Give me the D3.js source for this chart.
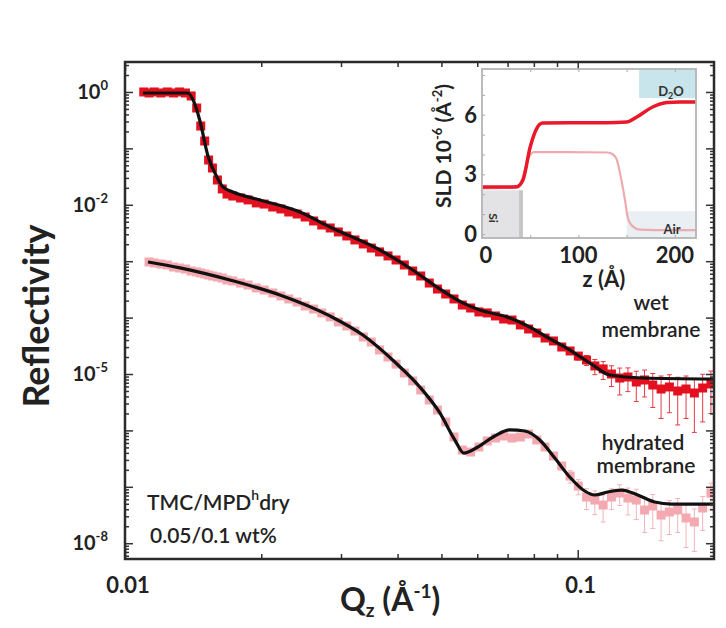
<!DOCTYPE html>
<html>
<head>
<meta charset="utf-8">
<script src="https://cdn.jsdelivr.net/npm/d3@7"></script>
<style>
  body { margin: 0; background: #fff; }
  svg { display: block; font-family: Lato, 'Open Sans', sans-serif; }
</style>
</head>
<body>
<svg id="chart" width="726" height="628"></svg>
<script>
// wet membrane data (Q in 1/A, reflectivity, relative error)
const wetQ = [0.0110, 0.0113, 0.0116, 0.0120, 0.0124, 0.0128, 0.0132, 0.0136, 0.0140,
  0.0144, 0.0147, 0.0150, 0.0153, 0.0156, 0.0160, 0.0164, 0.0168, 0.0173,
  0.0180, 0.0187, 0.0195, 0.0203, 0.0212, 0.0221, 0.0230, 0.0240, 0.0250, 0.0261,
  0.0272, 0.0284, 0.0296, 0.0309, 0.0322, 0.0336, 0.0350, 0.0365, 0.0381, 0.0397,
  0.0414, 0.0432, 0.0450, 0.0470, 0.0490, 0.0511, 0.0533, 0.0556, 0.0580, 0.0605,
  0.0631, 0.0658, 0.0686, 0.0716, 0.0747, 0.0779, 0.0812, 0.0847, 0.0884, 0.0922,
  0.0962, 0.1003, 0.1046, 0.1091, 0.1138, 0.1187, 0.1238, 0.1291, 0.1347, 0.1405,
  0.1465, 0.1528, 0.1594, 0.1663, 0.1735, 0.1810, 0.1888, 0.1969];
const wetR = [1.00, 0.96, 1.00, 0.96, 1.00, 0.96, 1.00, 0.96, 0.85,
  0.52, 0.249, 0.135, 0.0622, 0.0449, 0.0275, 0.0191, 0.0155, 0.0143,
  0.0132, 0.0122, 0.0108, 0.0103, 9.14e-3, 8.43e-3, 7.45e-3, 6.87e-3, 6.08e-3, 5.16e-3,
  4.38e-3, 3.88e-3, 3.30e-3, 2.80e-3, 2.38e-3, 2.02e-3, 1.71e-3, 1.46e-3, 1.24e-3, 1.05e-3,
  8.57e-4, 6.70e-4, 5.47e-4, 4.10e-4, 3.21e-4, 2.62e-4, 2.14e-4, 1.67e-4, 1.48e-4, 1.26e-4,
  1.21e-4, 1.07e-4, 9.44e-5, 9.06e-5, 7.40e-5, 6.28e-5, 5.33e-5, 4.35e-5, 3.85e-5, 3.01e-5,
  2.56e-5, 2.08e-5, 1.77e-5, 1.39e-5, 1.23e-5, 1.00e-5, 8.49e-6, 8.85e-6, 7.21e-6, 7.83e-6,
  6.38e-6, 5.42e-6, 5.88e-6, 5.00e-6, 5.42e-6, 4.61e-6, 5.65e-6, 6.65e-6];
const wetErr = [0.03, 0.03, 0.03, 0.03, 0.03, 0.03, 0.03, 0.03, 0.03,
  0.03, 0.03, 0.03, 0.03, 0.03, 0.03, 0.03, 0.03, 0.03,
  0.03, 0.03, 0.03, 0.03, 0.03, 0.03, 0.03, 0.03, 0.03, 0.03,
  0.03, 0.03, 0.03, 0.03, 0.03, 0.03, 0.03, 0.03, 0.03, 0.03,
  0.04, 0.04, 0.04, 0.04, 0.04, 0.04, 0.04, 0.04, 0.04, 0.04,
  0.05, 0.05, 0.05, 0.06, 0.06, 0.07, 0.07, 0.08, 0.08, 0.10,
  0.12, 0.15, 0.20, 0.30, 0.35, 0.40, 0.50, 0.45, 0.55, 0.50,
  0.60, 0.70, 0.65, 0.75, 0.70, 0.80, 0.75, 0.70];

// hydrated membrane data (same Q grid without the first point)
const hydQ = wetQ.slice(1);
const hydR = [9.68e-4, 9.29e-4, 8.92e-4, 8.57e-4, 7.89e-4, 7.57e-4, 7.27e-4, 6.70e-4,
  6.44e-4, 6.18e-4, 5.93e-4, 5.69e-4, 5.47e-4, 5.25e-4, 5.04e-4, 4.64e-4, 4.46e-4,
  4.10e-4, 3.78e-4, 3.35e-4, 3.08e-4, 2.73e-4, 2.42e-4, 2.14e-4, 1.89e-4, 1.61e-4, 1.42e-4,
  1.21e-4, 1.03e-4, 8.36e-5, 7.10e-5, 5.78e-5, 4.53e-5, 3.69e-5, 2.67e-5, 2.00e-5, 1.50e-5,
  1.04e-5, 7.52e-6, 5.20e-6, 3.46e-6, 2.30e-6, 1.41e-6, 7.64e-7, 4.49e-7, 4.14e-7, 5.08e-7,
  6.49e-7, 7.33e-7, 7.96e-7, 7.33e-7, 7.64e-7, 8.63e-7, 6.76e-7, 5.08e-7, 3.52e-7, 2.34e-7,
  1.55e-7, 1.03e-7, 6.59e-8, 5.83e-8, 4.75e-8, 6.59e-8, 7.76e-8, 6.33e-8, 5.83e-8, 3.88e-8,
  4.57e-8, 3.16e-8, 3.57e-8, 3.88e-8, 2.80e-8, 2.38e-8, 4.21e-8, 7.76e-8];
const hydErr = [0.03, 0.03, 0.03, 0.03, 0.03, 0.03, 0.03, 0.03,
  0.03, 0.03, 0.03, 0.03, 0.03, 0.03, 0.03, 0.03, 0.03,
  0.03, 0.03, 0.03, 0.03, 0.03, 0.03, 0.03, 0.03, 0.03, 0.03,
  0.03, 0.03, 0.03, 0.03, 0.03, 0.03, 0.03, 0.03, 0.03, 0.03,
  0.03, 0.03, 0.03, 0.04, 0.04, 0.05, 0.05, 0.06, 0.06, 0.06,
  0.06, 0.06, 0.06, 0.06, 0.07, 0.07, 0.08, 0.10, 0.12, 0.15,
  0.25, 0.30, 0.40, 0.45, 0.50, 0.40, 0.40, 0.50, 0.55, 0.60,
  0.60, 0.65, 0.60, 0.60, 0.70, 0.70, 0.60, 0.50];

// model fits
const wetFitQ = [0.01096, 0.01377, 0.01420, 0.01464, 0.01525, 0.01596, 0.01646, 0.01731,
  0.01986, 0.02433, 0.02835, 0.03656, 0.04322, 0.04884, 0.05574, 0.06076, 0.06970,
  0.07834, 0.08543, 0.09456, 0.1079, 0.1177, 0.1392, 0.1996];
const wetFitR = [0.96, 0.96, 0.665, 0.306, 0.0733, 0.0311, 0.0207, 0.01687,
  0.01216, 7.45e-3, 4.04e-3, 1.58e-3, 6.98e-4, 3.49e-4, 1.82e-4, 1.36e-4, 1.03e-4,
  6.81e-5, 4.53e-5, 2.89e-5, 1.45e-5, 9.6e-6, 8.5e-6, 8.15e-6];
const hydFitQ = [0.01124, 0.01323, 0.01705, 0.02199, 0.02835, 0.03353, 0.03945, 0.04479,
  0.04960, 0.05351, 0.05602, 0.06017, 0.06557, 0.07077, 0.07638, 0.08245, 0.08898,
  0.09601, 0.1036, 0.1090, 0.1165, 0.1251, 0.1357, 0.1479, 0.1613, 0.1996];
const hydFitR = [9.7e-4, 7.6e-4, 4.64e-4, 2.52e-4, 1.07e-4, 4.9e-5, 1.63e-5, 5.9e-6,
  2.04e-6, 6.8e-7, 3.97e-7, 5.08e-7, 7.96e-7, 1.02e-6, 9.75e-7, 6.76e-7, 3.24e-7,
  1.49e-7, 8.43e-8, 7.16e-8, 8.09e-8, 8.77e-8, 7.16e-8, 5.37e-8, 4.95e-8, 4.95e-8];

// SLD profiles for the inset
const wetZ = [0, 20, 36, 42.5, 50, 57, 63, 90, 130, 150, 160.6, 177, 192, 205, 222];
const wetSLD = [2.36, 2.36, 2.38, 2.72, 4.38, 5.33, 5.58, 5.6, 5.6, 5.63, 5.89, 6.39, 6.62, 6.64, 6.64];
const dryZ = [0, 36, 42, 48, 54, 90, 130, 136, 140, 143, 146, 149, 151, 156, 164, 180, 222];
const drySLD = [2.3, 2.32, 2.8, 3.8, 4.12, 4.12, 4.1, 4.0, 3.72, 3.1, 2.36, 1.5, 0.86, 0.4, 0.22, 0.2, 0.2];

// ticks
const xMajor = [0.01, 0.1];
const xMinor = [0.02, 0.03, 0.04, 0.05, 0.06, 0.07, 0.08, 0.09];
const xLabels = ['0.01', '0.1'];
const yDecades = [0, -1, -2, -3, -4, -5, -6, -7, -8];
const yLabelled = [0, -2, -5, -8];
const insetXTicks = [0, 50, 100, 150, 200];
const insetXLabels = [0, 100, 200];
const insetYTicks = [0, 1, 2, 3, 4, 5, 6, 7, 8];
const insetYLabels = [0, 3, 6];

const svg = d3.select('#chart');
const plot = { left: 125, right: 714, top: 62, bottom: 559 };

const x = d3.scaleLog().domain([0.01, 0.2]).range([plot.left, plot.right]);
const y = d3.scaleLog().domain([5.25e-9, 3.4]).range([plot.bottom, plot.top]);

svg.append('defs').append('clipPath').attr('id', 'clip')
  .append('rect')
  .attr('x', plot.left).attr('y', plot.top)
  .attr('width', plot.right - plot.left).attr('height', plot.bottom - plot.top);

function drawPoints(qs, rs, errs, fill, barColor) {
  const data = qs.map((q, i) => ({ q, r: rs[i], e: errs[i] }));
  const g = svg.append('g').attr('clip-path', 'url(#clip)');
  const bars = g.append('g').attr('stroke', barColor).attr('stroke-width', 1);
  bars.selectAll('line.v').data(data).enter().append('line')
    .attr('x1', d => x(d.q)).attr('x2', d => x(d.q))
    .attr('y1', d => y(d.r * (1 + d.e))).attr('y2', d => y(d.r * (1 - d.e)));
  bars.selectAll('line.lo').data(data).enter().append('line')
    .attr('x1', d => x(d.q) - 2.5).attr('x2', d => x(d.q) + 2.5)
    .attr('y1', d => y(d.r * (1 - d.e))).attr('y2', d => y(d.r * (1 - d.e)));
  bars.selectAll('line.hi').data(data).enter().append('line')
    .attr('x1', d => x(d.q) - 2.5).attr('x2', d => x(d.q) + 2.5)
    .attr('y1', d => y(d.r * (1 + d.e))).attr('y2', d => y(d.r * (1 + d.e)));
  g.selectAll('rect').data(data).enter().append('rect')
    .attr('x', d => x(d.q) - 4.5).attr('y', d => y(d.r) - 4.5)
    .attr('width', 9).attr('height', 9)
    .attr('fill', fill);
}

drawPoints(hydQ, hydR, hydErr, '#f4a9b0', '#f3b4ba');
drawPoints(wetQ, wetR, wetErr, '#e3101f', '#e33a46');

const fitLine = d3.line().x(d => x(d[0])).y(d => y(d[1])).curve(d3.curveMonotoneX);
const fits = svg.append('g').attr('clip-path', 'url(#clip)')
  .attr('fill', 'none').attr('stroke', '#111').attr('stroke-width', 3.2);
fits.append('path').attr('d', fitLine(d3.zip(wetFitQ, wetFitR)));
fits.append('path').attr('d', fitLine(d3.zip(hydFitQ, hydFitR)));

// axes
const yMinor = [];
for (let e = -9; e <= 0; e++) {
  for (let m = 2; m <= 9; m++) {
    const v = m * Math.pow(10, e);
    if (v > y.domain()[0] && v < y.domain()[1]) yMinor.push(v);
  }
}
const yMajorVals = yDecades.map(e => Math.pow(10, e));

function tickAxis(axis, pos, vals, size) {
  svg.append('g')
    .attr('transform', pos)
    .call(axis.tickValues(vals).tickSizeInner(-size).tickSizeOuter(0).tickFormat(''))
    .call(g => g.select('.domain').remove())
    .call(g => g.selectAll('line').attr('stroke', '#333').attr('stroke-width', 1.5));
}
tickAxis(d3.axisBottom(x), `translate(0,${plot.bottom})`, xMajor, 9);
tickAxis(d3.axisBottom(x), `translate(0,${plot.bottom})`, xMinor, 5);
tickAxis(d3.axisTop(x), `translate(0,${plot.top})`, xMajor, 9);
tickAxis(d3.axisTop(x), `translate(0,${plot.top})`, xMinor, 5);
tickAxis(d3.axisLeft(y), `translate(${plot.left},0)`, yMajorVals, 8);
tickAxis(d3.axisLeft(y), `translate(${plot.left},0)`, yMinor, 4);
tickAxis(d3.axisRight(y), `translate(${plot.right},0)`, yMajorVals, 8);
tickAxis(d3.axisRight(y), `translate(${plot.right},0)`, yMinor, 4);

svg.append('rect')
  .attr('x', plot.left).attr('y', plot.top)
  .attr('width', plot.right - plot.left).attr('height', plot.bottom - plot.top)
  .attr('fill', 'none').attr('stroke', '#2b2b2b').attr('stroke-width', 2.5);

// tick labels
svg.append('g').selectAll('text').data(xMajor).enter().append('text')
  .attr('x', d => x(d) + 3).attr('y', 593)
  .attr('text-anchor', 'middle')
  .attr('font-size', 22).attr('font-weight', 700).attr('fill', '#222')
  .text((d, i) => xLabels[i]);

const yl = svg.append('g').selectAll('text').data(yLabelled).enter().append('text')
  .attr('x', 108).attr('y', d => y(Math.pow(10, d)) + 7)
  .attr('text-anchor', 'end')
  .attr('font-size', 20).attr('font-weight', 700).attr('fill', '#222');
yl.append('tspan').text('10');
yl.append('tspan').attr('dy', -9).attr('font-size', 13).text(d => d === 0 ? '0' : '-' + Math.abs(d));

// axis titles
svg.append('text')
  .attr('transform', 'translate(49,316) rotate(-90)')
  .attr('text-anchor', 'middle')
  .attr('font-size', 36).attr('font-weight', 700).attr('fill', '#222')
  .text('Reflectivity');

const xt = svg.append('text')
  .attr('x', 340).attr('y', 611)
  .attr('font-size', 32).attr('font-weight', 700).attr('fill', '#222');
xt.append('tspan').text('Q');
xt.append('tspan').attr('font-size', 19).attr('dy', 6).text('z');
xt.append('tspan').attr('dy', -6).text(' (Å');
xt.append('tspan').attr('font-size', 19).attr('dy', -13).text('-1');
xt.append('tspan').attr('dy', 13).text(')');

// annotations
const note = svg.append('g').attr('font-size', 21).attr('font-weight', 600).attr('fill', '#222');
const n1 = note.append('text').attr('x', 147).attr('y', 510);
n1.append('tspan').text('TMC/MPD');
n1.append('tspan').attr('font-size', 14).attr('dy', -10).text('h');
n1.append('tspan').attr('dy', 10).text('dry');
note.append('text').attr('x', 150).attr('y', 543).text('0.05/0.1 wt%');

const lab = svg.append('g').attr('font-size', 21).attr('font-weight', 600).attr('fill', '#222')
  .attr('text-anchor', 'middle');
lab.append('text').attr('x', 651).attr('y', 310).text('wet');
lab.append('text').attr('x', 651).attr('y', 337).text('membrane');
lab.append('text').attr('x', 643).attr('y', 450).text('hydrated');
lab.append('text').attr('x', 646).attr('y', 473).text('membrane');

// inset SLD profile
const inset = { left: 482, right: 696, top: 69, bottom: 238 };
const xs = d3.scaleLinear().domain([0, 222]).range([inset.left, inset.right]);
const ys = d3.scaleLinear().domain([-0.2, 8.3]).range([inset.bottom, inset.top]);

svg.append('rect')
  .attr('x', inset.left).attr('y', inset.top)
  .attr('width', inset.right - inset.left).attr('height', inset.bottom - inset.top)
  .attr('fill', '#fff');

const boxes = svg.append('g');
boxes.append('rect')
  .attr('x', xs(0)).attr('y', ys(2.2))
  .attr('width', xs(42.5) - xs(0)).attr('height', ys(-0.2) - ys(2.2))
  .attr('fill', '#e3e3e6');
boxes.append('rect')
  .attr('x', xs(38.5)).attr('y', ys(2.2))
  .attr('width', xs(42.5) - xs(38.5)).attr('height', ys(-0.2) - ys(2.2))
  .attr('fill', '#c6c6c8');
boxes.append('rect')
  .attr('x', xs(163)).attr('y', ys(8.3))
  .attr('width', xs(222) - xs(163)).attr('height', ys(6.84) - ys(8.3))
  .attr('fill', '#c8e5eb');
boxes.append('rect')
  .attr('x', xs(150)).attr('y', ys(1.15))
  .attr('width', xs(222) - xs(150)).attr('height', ys(-0.2) - ys(1.15))
  .attr('fill', '#e9eff3');

const sldLine = d3.line().x(d => xs(d[0])).y(d => ys(d[1])).curve(d3.curveMonotoneX);
svg.append('path').attr('d', sldLine(d3.zip(dryZ, drySLD)))
  .attr('fill', 'none').attr('stroke', '#eeaab0').attr('stroke-width', 2.2);
svg.append('path').attr('d', sldLine(d3.zip(wetZ, wetSLD)))
  .attr('fill', 'none').attr('stroke', '#e8192b').attr('stroke-width', 3.5);

const boxLab = svg.append('g').attr('font-size', 13).attr('font-weight', 700).attr('fill', '#333')
  .attr('text-anchor', 'middle');
const d2o = boxLab.append('text').attr('x', 671).attr('y', 96);
d2o.append('tspan').text('D');
d2o.append('tspan').attr('font-size', 9).attr('dy', 3).text('2');
d2o.append('tspan').attr('dy', -3).text('O');
boxLab.append('text').attr('x', 672).attr('y', 234).text('Air');
boxLab.append('text').attr('font-size', 12)
  .attr('transform', 'translate(489,218) rotate(90)').text('Si');

function insetTicks(axis, pos, vals, size) {
  svg.append('g')
    .attr('transform', pos)
    .call(axis.tickValues(vals).tickSizeInner(-size).tickSizeOuter(0).tickFormat(''))
    .call(g => g.select('.domain').remove())
    .call(g => g.selectAll('line').attr('stroke', '#a8a8a8').attr('stroke-width', 1));
}
insetTicks(d3.axisBottom(xs), `translate(0,${inset.bottom})`, insetXTicks, 3);
insetTicks(d3.axisTop(xs), `translate(0,${inset.top})`, insetXTicks, 3);
insetTicks(d3.axisLeft(ys), `translate(${inset.left},0)`, insetYTicks, 3);

svg.append('rect')
  .attr('x', inset.left).attr('y', inset.top)
  .attr('width', inset.right - inset.left).attr('height', inset.bottom - inset.top)
  .attr('fill', 'none').attr('stroke', '#b4b4b4').attr('stroke-width', 1.8);

const il = svg.append('g').attr('font-size', 22).attr('font-weight', 700).attr('fill', '#222');
il.selectAll('text.xl').data(insetXLabels).enter().append('text')
  .attr('x', d => xs(d) + (d === 0 ? 4 : 0)).attr('y', 263)
  .attr('text-anchor', 'middle').text(d => d);
il.selectAll('text.yl').data(insetYLabels).enter().append('text')
  .attr('x', 477).attr('y', d => ys(d) + 8)
  .attr('text-anchor', 'end').text(d => d);
il.append('text').attr('x', 604).attr('y', 287).attr('text-anchor', 'middle').text('z (Å)');

const st = svg.append('text')
  .attr('transform', 'translate(451,146) rotate(-90)')
  .attr('text-anchor', 'middle')
  .attr('font-size', 21).attr('font-weight', 700).attr('fill', '#222');
st.append('tspan').text('SLD 10');
st.append('tspan').attr('font-size', 13).attr('dy', -9).text('-6');
st.append('tspan').attr('dy', 9).text(' (Å');
st.append('tspan').attr('font-size', 13).attr('dy', -9).text('-2');
st.append('tspan').attr('dy', 9).text(')');
</script>
</body>
</html>
